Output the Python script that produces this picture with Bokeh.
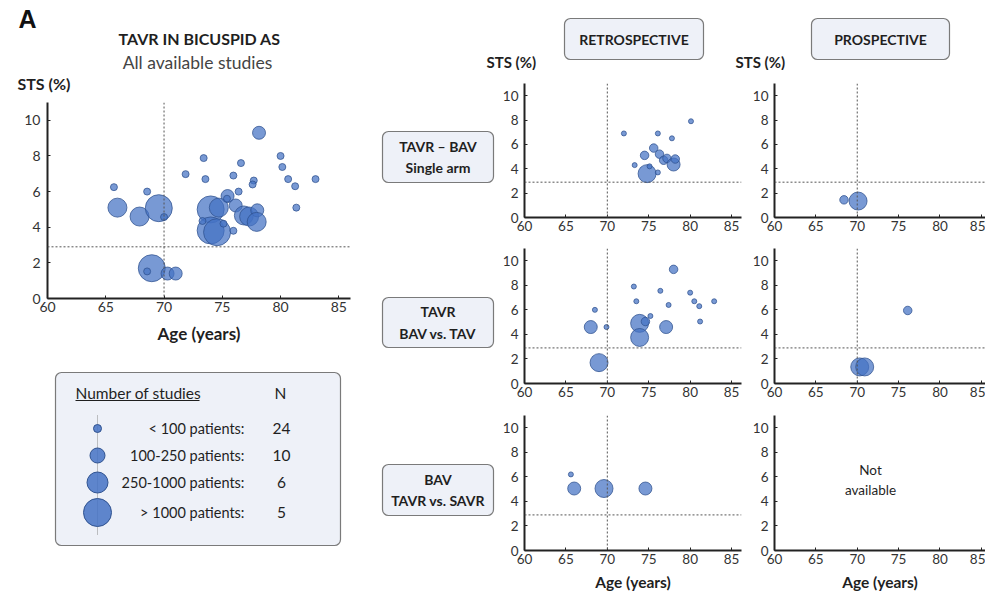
from bokeh.plotting import figure
from bokeh.models import Range1d, FixedTicker, Span, BoxAnnotation, ColumnDataSource
from bokeh.layouts import row, column
from bokeh.core.properties import value
from bokeh.embed import file_html
from bokeh.resources import INLINE

# ---------------- data ----------------
# size class: 1 = <100, 2 = 100-250, 3 = 250-1000, 4 = >1000 patients
all_age = [65.7, 66.0, 68.55, 67.9, 69.55, 70.0, 71.85, 68.95, 68.55, 70.3, 71.0,
           78.15, 73.4, 76.6, 80.0, 80.15, 73.55, 75.95, 77.7, 77.6, 80.65, 81.25, 83.0, 81.35, 76.4,
           75.45, 74.0, 74.7, 76.15, 74.0, 74.55, 75.95, 75.4, 76.85, 77.3, 78.0, 77.95, 75.1, 73.3]
all_sts = [6.25, 5.1, 6.0, 4.6, 5.07, 4.57, 6.98, 1.7, 1.52, 1.4, 1.4,
           9.3, 7.88, 7.6, 8.0, 7.38, 6.7, 6.9, 6.62, 6.4, 6.7, 6.3, 6.7, 5.1, 6.0,
           5.75, 5.0, 5.1, 5.22, 3.82, 3.72, 3.8, 5.6, 4.66, 4.6, 4.95, 4.3, 4.2, 4.35]
all_cls = [1, 3, 1, 3, 4, 1, 1, 4, 1, 2, 2,
           2, 1, 1, 1, 1, 1, 1, 1, 1, 1, 1, 1, 1, 1,
           2, 4, 3, 2, 4, 4, 1, 1, 3, 3, 2, 3, 1, 1]

retro_single_age = [72.0, 76.1, 77.8, 80.1, 73.3, 74.5, 75.6, 76.3, 76.8, 77.2, 78.0, 78.2, 74.8, 75.1, 76.1]
retro_single_sts = [6.9, 6.9, 6.5, 7.9, 4.3, 5.1, 5.7, 5.2, 4.7, 4.85, 4.35, 4.8, 3.6, 4.2, 3.7]
retro_single_cls = [1, 1, 1, 1, 1, 2, 2, 2, 2, 2, 3, 2, 4, 1, 1]

prosp_single_age = [68.4, 70.1]
prosp_single_sts = [1.45, 1.35]
prosp_single_cls = [2, 4]

retro_bavtav_age = [68.5, 68.0, 69.9, 69.0, 73.2, 73.5, 73.9, 73.9, 74.6, 75.2, 77.1, 76.4, 77.4,
                    78.0, 80.0, 80.5, 81.1, 81.2, 82.9]
retro_bavtav_sts = [6.0, 4.6, 4.6, 1.7, 7.9, 6.7, 4.9, 3.75, 5.05, 5.5, 4.6, 7.55, 6.4,
                    9.3, 7.4, 6.7, 6.3, 5.05, 6.7]
retro_bavtav_cls = [1, 3, 1, 4, 1, 1, 4, 4, 2, 1, 3, 1, 1,
                    2, 1, 1, 1, 1, 1]

prosp_bavtav_age = [70.3, 70.9, 76.1]
prosp_bavtav_sts = [1.35, 1.35, 5.95]
prosp_bavtav_cls = [4, 4, 2]

retro_savr_age = [65.6, 66.0, 69.6, 74.6]
retro_savr_sts = [6.2, 5.05, 5.05, 5.05]
retro_savr_cls = [1, 3, 4, 3]

x_ticks = [60, 65, 70, 75, 80, 85]
y_ticks = [0, 2, 4, 6, 8, 10]
age_cut = 70
sts_cut = 2.9

legend_cls = [1, 2, 3, 4]
legend_labels = ["< 100 patients:", "100-250 patients:", "250-1000 patients:", "> 1000 patients:"]
legend_n = ["24", "10", "6", "5"]

# ---------------- style ----------------
FONT = "Lato"
BLUE = "#4472C4"
EDGE = "#2F528F"
BOX_FILL = "#EEF1F8"
BOX_LINE = "#7A7A7A"
TXT = "#1F1F1F"
MAIN_SIZE = {1: 7, 2: 13, 3: 19, 4: 27}
PANEL_SIZE = {1: 5, 2: 8.5, 3: 13, 4: 18}
LEGEND_SIZE = {1: 8, 2: 15, 3: 21, 4: 28}


def blank(w, h, x0, y0):
    p = figure(width=w, height=h, x_range=Range1d(x0, x0 + w), y_range=Range1d(y0 + h, y0),
               output_backend="svg", toolbar_location=None, min_border=0,
               x_axis_location=None, y_axis_location=None, frame_align=False)
    p.grid.visible = False
    p.outline_line_color = None
    p.background_fill_color = "white"
    p.border_fill_color = "white"
    return p


def txt(p, x, y, s, size, bold=False, align="center", color=TXT, font=FONT):
    p.text(x=[x], y=[y], text=[s], text_font=value(font), text_font_size=f"{size}px",
           text_font_style="bold" if bold else "normal", text_align=align,
           text_baseline="middle", text_color=color, text_line_height=1.25)


def box(p, l, r, t, b):
    p.add_layout(BoxAnnotation(left=l, right=r, top=t, bottom=b, fill_color=BOX_FILL, fill_alpha=1,
                               line_color=BOX_LINE, line_width=1.2, line_alpha=1,
                               border_radius=6, level="underlay"))


def scatter_fig(w, h, x_end, ml, mr, mt, mb, age, sts, cls, sizes, tick_px,
                xlabel=None, xlabel_px=15, xlabel_standoff=6, ylab_standoff=6, refs=True):
    p = figure(width=w, height=h, x_range=Range1d(60, x_end), y_range=Range1d(0, 11),
               min_border_left=ml, min_border_right=mr, min_border_top=mt, min_border_bottom=mb,
               output_backend="svg", toolbar_location=None, frame_align=False)
    p.grid.visible = False
    p.outline_line_color = None
    p.xaxis.ticker = FixedTicker(ticks=x_ticks)
    p.yaxis.ticker = FixedTicker(ticks=y_ticks)
    for ax in list(p.xaxis) + list(p.yaxis):
        ax.axis_line_width = 2
        ax.axis_line_color = "#222222"
        ax.major_tick_line_color = "#222222"
        ax.major_tick_in = 3
        ax.major_tick_out = 0
        ax.minor_tick_line_color = None
        ax.major_label_text_font = FONT
        ax.major_label_text_font_size = f"{tick_px}px"
        ax.major_label_text_color = "#333333"
    p.xaxis.major_label_standoff = 3
    p.yaxis.major_label_standoff = ylab_standoff
    if xlabel:
        p.xaxis.axis_label = xlabel
        p.xaxis.axis_label_text_font = FONT
        p.xaxis.axis_label_text_font_style = "bold"
        p.xaxis.axis_label_text_font_size = f"{xlabel_px}px"
        p.xaxis.axis_label_text_color = TXT
        p.xaxis.axis_label_standoff = xlabel_standoff
    if refs:
        p.add_layout(Span(location=age_cut, dimension="height", line_color="#555555",
                          line_dash="2 2", line_width=1))
        p.add_layout(Span(location=sts_cut, dimension="width", line_color="#555555",
                          line_dash="2 2", line_width=1))
    if age:
        src = ColumnDataSource(dict(x=age, y=sts, s=[sizes[c] for c in cls]))
        p.scatter("x", "y", size="s", source=src, fill_color=BLUE, fill_alpha=0.72,
                  line_color=EDGE, line_alpha=0.75, line_width=1)
    return p


# ---------------- left column (page x 0..379) ----------------
title_fig = blank(379, 97, 0, 0)
txt(title_fig, 18, 18, "A", 25, bold=True, align="left", color="#111111", font="Liberation Sans")
txt(title_fig, 199, 38, "TAVR IN BICUSPID AS", 16, bold=True)
txt(title_fig, 197, 62, "All available studies", 17.5, color="#444444")
txt(title_fig, 17, 83, "STS (%)", 16, bold=True, align="left")

main_fig = scatter_fig(379, 261, 86, 47, 29, 5, 60, all_age, all_sts, all_cls, MAIN_SIZE, 14,
                       xlabel="Age (years)", xlabel_px=17, xlabel_standoff=8, ylab_standoff=7)

leg_fig = blank(379, 238, 0, 358)
box(leg_fig, 55, 340, 372, 545)
txt(leg_fig, 75, 392, "Number of studies", 15.5, align="left")
leg_fig.line([75, 199], [400, 400], line_color=TXT, line_width=1)
txt(leg_fig, 280, 392, "N", 15.5)
leg_fig.line([97, 97], [415, 534], line_color="#888888", line_dash="1 1", line_width=1)
leg_y = [428, 455, 482, 512]
leg_fig.scatter(x=[97] * 4, y=leg_y, size=[LEGEND_SIZE[c] for c in legend_cls],
                fill_color=BLUE, fill_alpha=0.85, line_color=EDGE, line_width=1)
for yy, lab, n in zip(leg_y, legend_labels, legend_n):
    txt(leg_fig, 244, yy, lab, 14.5, align="right")
    txt(leg_fig, 281, yy, n, 15.5)

left = column(title_fig, main_fig, leg_fig, spacing=0)

# ---------------- right part (page x 379..985) ----------------
head_fig = blank(606, 70, 379, 0)
box(head_fig, 564, 703, 18, 59)
box(head_fig, 811, 949, 18, 59)
txt(head_fig, 633.5, 38.5, "RETROSPECTIVE", 14, bold=True)
txt(head_fig, 880, 38.5, "PROSPECTIVE", 14, bold=True)
txt(head_fig, 486, 61, "STS (%)", 15, bold=True, align="left")
txt(head_fig, 735, 61, "STS (%)", 15, bold=True, align="left")

row_tops = [70, 238, 403]
row_h = [168, 165, 193]
row_mt = [13, 10, 12]
row_mb = [21, 20, 46]
row_labels = ["TAVR \u2013 BAV\nSingle arm", "TAVR\nBAV vs. TAV", "BAV\nTAVR vs. SAVR"]
row_boxes = [(131, 182), (297, 347), (464, 515)]
retro_data = [(retro_single_age, retro_single_sts, retro_single_cls),
              (retro_bavtav_age, retro_bavtav_sts, retro_bavtav_cls),
              (retro_savr_age, retro_savr_sts, retro_savr_cls)]
prosp_data = [(prosp_single_age, prosp_single_sts, prosp_single_cls),
              (prosp_bavtav_age, prosp_bavtav_sts, prosp_bavtav_cls),
              None]

rows = []
for i in range(3):
    lf = blank(118, row_h[i], 379, row_tops[i])
    t, b = row_boxes[i]
    box(lf, 382, 493, t, b)
    txt(lf, 437.5, (t + b) / 2, row_labels[i], 14, bold=True)
    xl = "Age (years)" if i == 2 else None
    ra, rs, rc = retro_data[i]
    rf = scatter_fig(248, row_h[i], 86.2, 27, 4, row_mt[i], row_mb[i], ra, rs, rc, PANEL_SIZE, 13.5,
                     xlabel=xl, xlabel_px=15.5, xlabel_standoff=6)
    if prosp_data[i] is not None:
        pa, ps, pc = prosp_data[i]
        pf = scatter_fig(240, row_h[i], 85.5, 29, 0, row_mt[i], row_mb[i], pa, ps, pc, PANEL_SIZE, 13.5,
                         xlabel=xl, xlabel_px=15.5, xlabel_standoff=6)
    else:
        pf = scatter_fig(240, row_h[i], 85.5, 29, 0, row_mt[i], row_mb[i], [], [], [], PANEL_SIZE, 13.5,
                         xlabel=xl, xlabel_px=15.5, xlabel_standoff=6, refs=False)
        pf.text(x=[71.6], y=[5.75], text=["Not\navailable"], text_font=value(FONT),
                text_font_size="13.5px", text_align="center", text_baseline="middle",
                text_color=TXT, text_line_height=1.25)
    rows.append(row(lf, rf, pf, spacing=0))

right = column(head_fig, *rows, spacing=0)
layout = row(left, right, spacing=0)

open("out.html", "w").write(file_html(layout, INLINE))
